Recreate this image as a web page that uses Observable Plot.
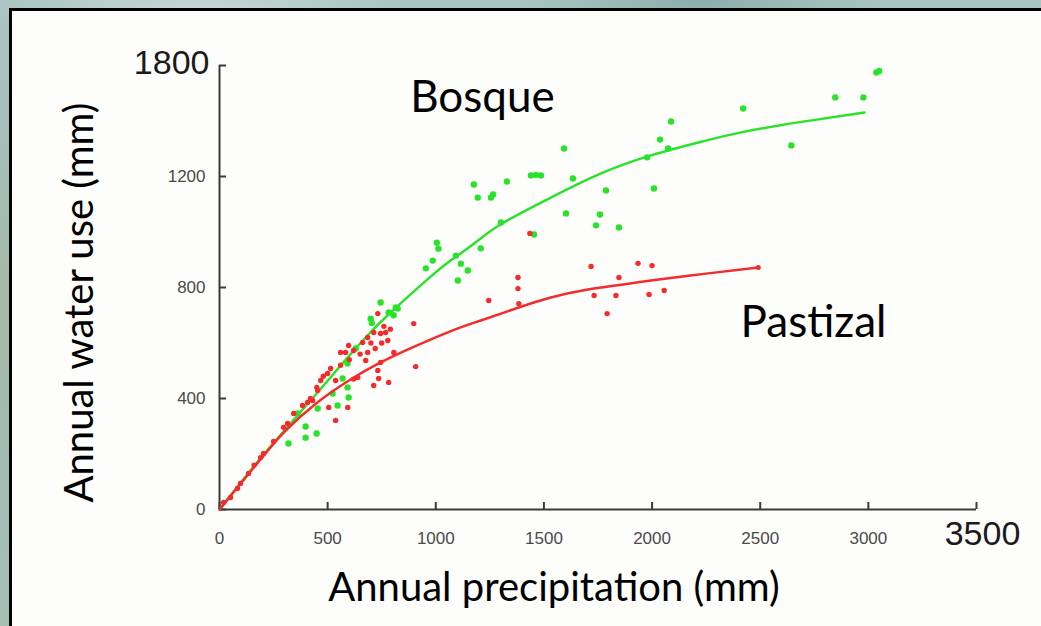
<!DOCTYPE html>
<html><head><meta charset="utf-8">
<script src="https://cdn.jsdelivr.net/npm/d3@7"></script>
<script src="https://cdn.jsdelivr.net/npm/@observablehq/plot@0.6"></script>
<style>
html,body{margin:0;padding:0;width:1041px;height:626px;overflow:hidden;}
body{position:relative;background:
  radial-gradient(ellipse 300px 60px at 200px 10px, rgba(210,225,222,0.7), rgba(210,225,222,0) 70%),
  radial-gradient(ellipse 250px 80px at 700px 0px, rgba(120,160,158,0.6), rgba(120,160,158,0) 70%),
  radial-gradient(ellipse 40px 300px at 4px 300px, rgba(170,185,160,0.6), rgba(170,185,160,0) 70%),
  linear-gradient(180deg,#a9c4c1 0%,#9dbbb7 50%,#a6bfb5 100%);}
#panel{position:absolute;left:9px;top:8px;width:1100px;height:700px;border:3px solid #000;background:#fdfdfc;}
#chart{position:absolute;left:0;top:0;}
</style></head>
<body><div id="panel"></div><div id="chart"></div>
<script>
// Bosque (forest) observations: annual precipitation (mm) vs annual water use (mm)
const bosqueP  = [319,398,398,449,454,361,523,546,569,592,597,592,630,699,704,745,782,815,824,805,954,986,1005,1012,1093,1116,1148,1102,1176,1194,1255,1265,1329,1208,1301,1440,1463,1486,1454,1593,1634,1602,1787,1759,1741,1847,2009,1977,2037,2088,2074,2421,2644,2847,2977,3037,3050];
const bosqueET = [238,259,299,274,364,346,418,375,472,440,404,526,580,688,672,746,710,728,724,700,869,897,961,940,915,886,861,825,1171,1124,1124,1135,1182,941,1034,1204,1206,1204,991,1301,1193,1067,1150,1063,1024,1016,1157,1269,1333,1398,1301,1445,1312,1485,1485,1575,1580];
// Pastizal (grassland) observations
const pastizalP  = [19,51,83,97,134,160,190,204,250,296,315,343,384,407,431,420,454,468,500,514,537,560,583,597,620,662,685,713,732,745,768,778,685,745,732,736,713,782,806,639,593,505,537,898,907,676,620,450,480,560,600,650,700,720,750,760,790,1435,1380,1380,1384,1245,1718,1732,1833,1847,1792,1935,2000,1986,2056];
const pastizalET = [25,43,76,94,130,160,187,202,245,296,310,346,375,386,393,400,429,465,490,508,465,566,566,591,573,602,620,638,706,634,638,609,566,530,501,472,447,458,566,476,368,368,321,670,515,537,470,440,480,520,540,560,600,580,600,660,650,995,836,796,742,753,876,771,771,836,706,887,879,775,789];
// Fitted curves
const bosqueCurveP  = [0,200,400,593,685,778,963,1070,1176,1301,1532,1764,1995,2227,2412,2676,2982];
const bosqueCurveET = [0,194,374,548,628,700,830,898,958,1028,1124,1211,1276,1325,1359,1395,1431];
const pastizalCurveP  = [0,190,300,435,593,745,898,1070,1208,1380,1532,1685,1840,1995,2250,2491];
const pastizalCurveET = [0,181,280,375,462,530,586,643,681,727,764,790,808,825,850,872];
// Axis ticks and labels
const xTicks = [0,500,1000,1500,2000,2500,3000,3500];
const xTickLabels = ["0","500","1000","1500","2000","2500","3000","3500"];
const yTicks = [0,400,800,1200,1600];
const yTickLabels = ["0","400","800","1200","1800"];
const seriesNames = ["Bosque","Pastizal"];
const xTitle = "Annual precipitation (mm)";
const yTitle = "Annual water use (mm)";

const toRows = (xs, ys) => xs.map((x, i) => ({x, y: ys[i]}));
const bosque = toRows(bosqueP, bosqueET);
const pastizal = toRows(pastizalP, pastizalET);
const bosqueCurve = toRows(bosqueCurveP, bosqueCurveET);
const pastizalCurve = toRows(pastizalCurveP, pastizalCurveET);

const green = "#2be22b", red = "#f52a2a", axisColor = "#3a3a3a";
const smallX = xTicks.slice(0, -1), bigX = xTicks.slice(-1);
const smallY = yTicks.slice(0, -1), bigY = yTicks.slice(-1);
const labelOf = (ticks, labels) => d => labels[ticks.indexOf(d)];
const titleFont = "Lato, 'Open Sans', sans-serif";

const chart = Plot.plot({
  width: 1041, height: 626,
  marginLeft: 219, marginRight: 65, marginTop: 65, marginBottom: 117,
  x: {domain: [0, 3500], label: null},
  y: {domain: [0, 1600], label: null},
  style: {background: "transparent", overflow: "visible", fontFamily: "'Liberation Sans', Arial, sans-serif"},
  marks: [
    // axis lines
    Plot.ruleY([0], {x1: 0, x2: 3500, stroke: axisColor, strokeWidth: 2}),
    Plot.ruleX([0], {y1: 0, y2: 1600, stroke: axisColor, strokeWidth: 2}),
    // inward ticks
    Plot.axisX({ticks: xTicks, tickSize: -7, tickFormat: () => "", stroke: axisColor, strokeWidth: 2, label: null}),
    Plot.axisY({ticks: yTicks, tickSize: -7, tickFormat: () => "", stroke: axisColor, strokeWidth: 2, label: null}),
    // small tick labels
    Plot.axisX({ticks: smallX, tickSize: 0, tickPadding: 22, tickFormat: labelOf(xTicks, xTickLabels), fontSize: 17, fill: "#4a4a4a", label: null}),
    Plot.axisY({ticks: smallY, tickSize: 0, tickPadding: 14, tickFormat: labelOf(yTicks, yTickLabels), fontSize: 17, fill: "#4a4a4a", label: null}),
    // large tick labels
    Plot.axisX({ticks: bigX, tickSize: 0, tickPadding: 11, dx: 6, tickFormat: labelOf(xTicks, xTickLabels), fontSize: 34, fill: "#1a1a1a", label: null}),
    Plot.axisY({ticks: bigY, tickSize: 0, tickPadding: 10, dy: -2, tickFormat: labelOf(yTicks, yTickLabels), fontSize: 34, fill: "#1a1a1a", label: null}),
    // curves and points
    Plot.line(bosqueCurve, {x: "x", y: "y", stroke: green, strokeWidth: 2.5, curve: "natural"}),
    Plot.dot(bosque, {x: "x", y: "y", r: 3.2, fill: green}),
    Plot.line(pastizalCurve, {x: "x", y: "y", stroke: red, strokeWidth: 2.5, curve: "natural"}),
    Plot.dot(pastizal, {x: "x", y: "y", r: 2.7, fill: red}),
    Plot.dot(pastizalCurve.slice(-1), {x: "x", y: "y", r: 2.5, fill: red}),
    // annotations
    Plot.text([seriesNames[0]], {frameAnchor: "top-left", dx: 263, dy: 32, text: d => d, fontSize: 44, fontFamily: titleFont, fill: "#000", textAnchor: "middle", lineAnchor: "middle"}),
    Plot.text([seriesNames[1]], {frameAnchor: "top-left", dx: 594, dy: 257, text: d => d, fontSize: 44, fontFamily: titleFont, fill: "#000", textAnchor: "middle", lineAnchor: "middle"}),
    Plot.text([xTitle], {frameAnchor: "bottom", dx: -44, dy: 79, text: d => d, fontSize: 40, fontFamily: titleFont, fill: "#000", textAnchor: "middle", lineAnchor: "middle"}),
    Plot.text([yTitle], {frameAnchor: "left", dx: -139, dy: 15, rotate: -90, text: d => d, fontSize: 40, fontFamily: titleFont, fill: "#000", textAnchor: "middle", lineAnchor: "middle"})
  ]
});
document.getElementById("chart").appendChild(chart);
</script>
</body></html>
